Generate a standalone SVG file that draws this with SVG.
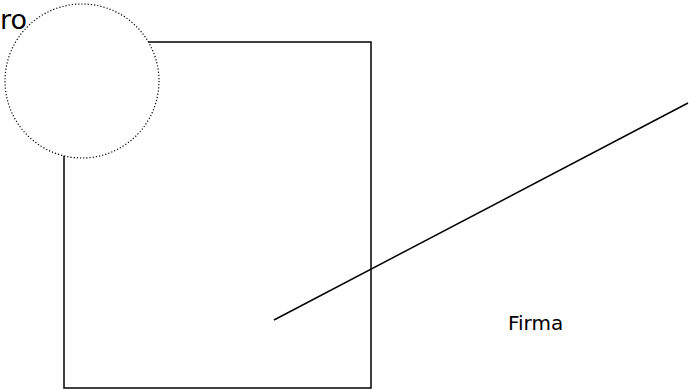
<svg xmlns="http://www.w3.org/2000/svg" width="692" height="390" viewBox="0 0 692 390">
<style>
.t{font-family:"DejaVu Sans",sans-serif;fill:#000}
.s{fill:none;stroke:#000;stroke-width:1.5}
</style>
<rect width="692" height="390" fill="#fff"/>
<g id="box"><rect class="s" x="64" y="42" width="307" height="346"/></g>
<g id="circle"><circle cx="82" cy="81" r="77" fill="#fff" stroke="#000" stroke-width="1.2" stroke-dasharray="1.2 2"/></g>
<g id="label-ro"><text class="t" x="0" y="29" font-size="27">ro</text></g>
<g id="label-firma"><text class="t" x="508" y="330" font-size="20">Firma</text></g>
<g id="connectors"><line class="s" x1="274" y1="320" x2="688" y2="103"/></g>
</svg>
